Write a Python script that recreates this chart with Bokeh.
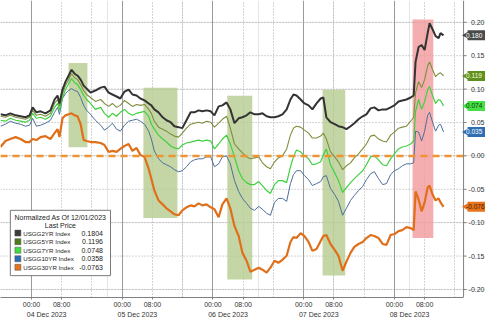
from bokeh.plotting import figure
from bokeh.models import Range1d, LinearAxis, FixedTicker, Grid
from bokeh.embed import file_html
from bokeh.resources import INLINE
from bokeh.core.properties import value

# hours since 04 Dec 2023 00:00 (Bloomberg intraday)
HOURS = [-8.2, -6.9, -5.6, -4.2, -2.9, -1.6, -0.5, 0.3, 1.3, 2.4,
         3.7, 5.0, 6.1, 6.9, 7.4, 8.2, 9.0, 9.8, 10.6, 11.4,
         12.2, 13.0, 13.8, 14.6, 15.6, 16.9, 18.3, 19.3, 20.4, 21.4,
         22.5, 23.5, 24.6, 25.7, 26.7, 27.8, 28.8, 29.9, 31.0, 31.7,
         32.5, 33.6, 34.7, 35.7, 36.8, 37.8, 38.9, 39.9, 41.0, 42.1,
         43.1, 44.2, 45.2, 46.3, 47.4, 48.4, 49.5, 50.5, 51.6, 52.6,
         53.7, 54.8, 55.8, 56.9, 57.9, 59.0, 60.1, 61.1, 62.2, 63.2,
         64.3, 65.3, 66.4, 67.5, 68.5, 69.3, 70.1, 71.2, 72.2, 73.3,
         74.3, 75.4, 76.5, 77.2, 78.0, 79.1, 80.2, 81.2, 82.3, 83.3,
         84.4, 85.4, 86.5, 87.6, 88.6, 89.7, 90.7, 91.8, 92.9, 93.9,
         95.0, 96.0, 97.1, 98.1, 99.2, 100.3, 101.1, 101.6, 102.4, 103.2,
         104.0, 104.8, 105.3, 106.1, 106.9, 107.7, 108.2, 109.0]

USGG2YR = [0.0622, 0.0607, 0.0637, 0.0607, 0.0593, 0.0578, 0.0607, 0.0726, 0.0652, 0.0667,
           0.0637, 0.0681, 0.0844, 0.0904, 0.0785, 0.0993, 0.1111, 0.1200, 0.1289, 0.1230,
           0.1200, 0.1141, 0.1052, 0.1007, 0.0948, 0.0978, 0.1022, 0.1037, 0.0948, 0.0919,
           0.0889, 0.0859, 0.0963, 0.0993, 0.0919, 0.0904, 0.0859, 0.0830, 0.0785, 0.0756,
           0.0696, 0.0652, 0.0578, 0.0533, 0.0504, 0.0444, 0.0430, 0.0415, 0.0533, 0.0652,
           0.0652, 0.0681, 0.0667, 0.0681, 0.0667, 0.0607, 0.0741, 0.0756, 0.0800, 0.0696,
           0.0489, 0.0563, 0.0578, 0.0607, 0.0652, 0.0622, 0.0622, 0.0637, 0.0593, 0.0578,
           0.0578, 0.0593, 0.0622, 0.0696, 0.0844, 0.0919, 0.0904, 0.0844, 0.0785, 0.0756,
           0.0696, 0.0785, 0.0859, 0.0874, 0.0578, 0.0504, 0.0474, 0.0444, 0.0430, 0.0400,
           0.0444, 0.0489, 0.0548, 0.0593, 0.0622, 0.0711, 0.0726, 0.0681, 0.0696, 0.0696,
           0.0726, 0.0756, 0.0815, 0.0830, 0.0844, 0.0874, 0.0904, 0.1407, 0.1630, 0.1659,
           0.1585, 0.1837, 0.1985, 0.1896, 0.1793, 0.1763, 0.1837, 0.1804]

USGG5YR = [0.0593, 0.0578, 0.0607, 0.0578, 0.0563, 0.0548, 0.0578, 0.0681, 0.0607, 0.0622,
           0.0593, 0.0637, 0.0785, 0.0844, 0.0741, 0.0933, 0.1052, 0.1141, 0.1230, 0.1170,
           0.1141, 0.1067, 0.0978, 0.0919, 0.0874, 0.0815, 0.0844, 0.0785, 0.0741, 0.0785,
           0.0726, 0.0756, 0.0830, 0.0785, 0.0741, 0.0770, 0.0756, 0.0770, 0.0696, 0.0637,
           0.0519, 0.0430, 0.0400, 0.0370, 0.0326, 0.0296, 0.0281, 0.0341, 0.0415, 0.0474,
           0.0489, 0.0504, 0.0489, 0.0519, 0.0504, 0.0430, 0.0489, 0.0548, 0.0593, 0.0415,
           0.0178, 0.0104, 0.0044, -0.0015, -0.0044, -0.0030, -0.0015, -0.0104, -0.0163, -0.0193,
           -0.0089, -0.0030, 0.0000, 0.0104, 0.0311, 0.0415, 0.0444, 0.0430, 0.0385, 0.0341,
           0.0267, 0.0267, 0.0296, 0.0341, 0.0252, 0.0059, -0.0015, -0.0089, -0.0207, -0.0148,
           -0.0104, -0.0030, 0.0030, 0.0104, 0.0178, 0.0296, 0.0311, 0.0252, 0.0222, 0.0207,
           0.0311, 0.0356, 0.0415, 0.0430, 0.0444, 0.0519, 0.0578, 0.0948, 0.1111, 0.1022,
           0.1141, 0.1348, 0.1407, 0.1289, 0.1185, 0.1230, 0.1244, 0.1196]

USGG7YR = [0.0533, 0.0519, 0.0563, 0.0533, 0.0519, 0.0504, 0.0533, 0.0637, 0.0563, 0.0578,
           0.0548, 0.0593, 0.0726, 0.0785, 0.0681, 0.0874, 0.0993, 0.1081, 0.1156, 0.1096,
           0.1067, 0.0993, 0.0904, 0.0844, 0.0785, 0.0696, 0.0726, 0.0637, 0.0578, 0.0637,
           0.0593, 0.0652, 0.0696, 0.0637, 0.0607, 0.0637, 0.0652, 0.0667, 0.0593, 0.0474,
           0.0400, 0.0311, 0.0252, 0.0207, 0.0148, 0.0119, 0.0104, 0.0163, 0.0193, 0.0207,
           0.0222, 0.0237, 0.0222, 0.0237, 0.0222, 0.0104, 0.0178, 0.0252, 0.0311, 0.0178,
           -0.0015, -0.0222, -0.0341, -0.0400, -0.0430, -0.0430, -0.0385, -0.0444, -0.0519, -0.0563,
           -0.0430, -0.0370, -0.0370, -0.0400, -0.0163, -0.0015, 0.0089, 0.0059, 0.0000, -0.0044,
           -0.0133, -0.0119, -0.0089, 0.0015, 0.0104, -0.0133, -0.0252, -0.0370, -0.0548, -0.0474,
           -0.0400, -0.0341, -0.0281, -0.0222, -0.0133, -0.0015, 0.0000, -0.0059, -0.0133, -0.0148,
           -0.0044, 0.0030, 0.0104, 0.0133, 0.0148, 0.0178, 0.0222, 0.0667, 0.0844, 0.0696,
           0.0815, 0.0993, 0.1037, 0.0904, 0.0785, 0.0844, 0.0830, 0.0748]

USGG10YR = [0.0444, 0.0474, 0.0519, 0.0489, 0.0474, 0.0444, 0.0459, 0.0563, 0.0444, 0.0459,
            0.0489, 0.0533, 0.0652, 0.0726, 0.0622, 0.0859, 0.0933, 0.0978, 0.1007, 0.0978,
            0.0963, 0.0874, 0.0756, 0.0681, 0.0622, 0.0533, 0.0459, 0.0385, 0.0430, 0.0489,
            0.0400, 0.0370, 0.0459, 0.0519, 0.0533, 0.0548, 0.0519, 0.0474, 0.0370, 0.0252,
            0.0074, -0.0044, -0.0104, -0.0133, -0.0163, -0.0207, -0.0237, -0.0222, -0.0163, -0.0089,
            -0.0059, -0.0044, -0.0044, -0.0015, -0.0015, -0.0163, -0.0119, -0.0015, 0.0000, -0.0119,
            -0.0370, -0.0533, -0.0637, -0.0711, -0.0785, -0.0815, -0.0756, -0.0800, -0.0859, -0.0889,
            -0.0696, -0.0637, -0.0637, -0.0681, -0.0415, -0.0281, -0.0222, -0.0222, -0.0296, -0.0356,
            -0.0444, -0.0415, -0.0385, -0.0311, -0.0296, -0.0489, -0.0578, -0.0681, -0.0889, -0.0785,
            -0.0667, -0.0593, -0.0519, -0.0459, -0.0356, -0.0267, -0.0237, -0.0341, -0.0430, -0.0415,
            -0.0281, -0.0222, -0.0193, -0.0148, -0.0119, -0.0119, -0.0104, 0.0370, 0.0356, 0.0222,
            0.0370, 0.0607, 0.0652, 0.0504, 0.0370, 0.0459, 0.0474, 0.0358]

USGG30YR = [0.0133, 0.0222, 0.0252, 0.0281, 0.0252, 0.0207, 0.0207, 0.0252, 0.0237, 0.0281,
            0.0296, 0.0252, 0.0341, 0.0400, 0.0281, 0.0563, 0.0607, 0.0622, 0.0637, 0.0607,
            0.0593, 0.0474, 0.0237, 0.0222, 0.0207, 0.0207, 0.0193, 0.0163, 0.0059, 0.0074,
            0.0059, 0.0104, 0.0148, 0.0178, 0.0074, 0.0119, 0.0015, -0.0015, -0.0193, -0.0341,
            -0.0519, -0.0667, -0.0726, -0.0785, -0.0830, -0.0874, -0.0889, -0.0815, -0.0770, -0.0741,
            -0.0756, -0.0711, -0.0741, -0.0726, -0.0770, -0.0800, -0.0919, -0.0726, -0.0637, -0.0785,
            -0.1052, -0.1200, -0.1452, -0.1570, -0.1733, -0.1704, -0.1674, -0.1704, -0.1748, -0.1674,
            -0.1570, -0.1600, -0.1556, -0.1496, -0.1289, -0.1215, -0.1230, -0.1156, -0.1200, -0.1289,
            -0.1422, -0.1393, -0.1274, -0.1200, -0.1185, -0.1319, -0.1407, -0.1496, -0.1719, -0.1585,
            -0.1452, -0.1363, -0.1319, -0.1289, -0.1230, -0.1185, -0.1200, -0.1230, -0.1319, -0.1333,
            -0.1185, -0.1170, -0.1126, -0.1111, -0.1067, -0.1081, -0.1111, -0.0533, -0.0652, -0.0830,
            -0.0696, -0.0474, -0.0444, -0.0578, -0.0667, -0.0637, -0.0696, -0.0763]

SERIES_NAMES = ["USGG2YR Index", "USGG5YR Index", "USGG7YR Index", "USGG10YR Index", "USGG30YR Index"]
LAST_PRICES = ["0.1804", "0.1196", "0.0748", "0.0358", "-0.0763"]
TAG_TEXTS = ["0.180", "0.119", "0.074", "0.035", "-0.076"]
LEGEND_TITLE = "Normalized As Of 12/01/2023"
LEGEND_SUBTITLE = "Last Price"

# highlighted windows (hours, value span)
BOX_START = [9.8, 29.6, 51.8, 77.0, 100.8]
BOX_END = [14.8, 38.6, 58.4, 83.0, 106.3]
BOX_TOP = [0.139, 0.102, 0.090, 0.099, 0.204]
BOX_BOTTOM = [0.013, -0.093, -0.185, -0.179, -0.123]

Y_TICKS = [-0.20, -0.15, -0.10, -0.05, 0.00, 0.05, 0.10, 0.15, 0.20]
DAY_STARTS = [0, 24, 48, 72, 96]
DAY_NAMES = ["04 Dec 2023", "05 Dec 2023", "06 Dec 2023", "07 Dec 2023", "08 Dec 2023"]

FONT = "Liberation Sans"
LINE_COLORS = ["#333333", "#7d8f3c", "#3fd13f", "#4d6f99", "#e06f1a"]
SQUARE_COLORS = ["#3c3c3c", "#4d7c1c", "#3ee03e", "#2a6cb5", "#e8731a"]
TAG_BG = ["#4a4a4a", "#5f9022", "#45e045", "#2f6db3", "#e8731a"]
TAG_FG = ["#ffffff", "#fffbd0", "#0c3a0c", "#ffffff", "#3a1800"]

X0, AXIS_X, XE = -8.2, 114.3, 120.1
Y0, Y1 = -0.212, 0.2326
PX = (XE - X0) / 485.0   # hours per pixel (for small offsets)

p = figure(width=485, height=320, x_range=Range1d(X0, XE), y_range=Range1d(Y0, Y1),
           output_backend="svg", toolbar_location=None,
           x_axis_location=None, y_axis_location=None,
           min_border_left=0, min_border_top=0, min_border_right=0, min_border_bottom=0)
p.outline_line_color = None
p.background_fill_color = "white"
p.border_fill_color = "white"

# bottom axes
time_ticks = []
time_labels = {}
for d in DAY_STARTS:
    time_ticks += [d, d + 8]
    time_labels[d] = "00:00"
    time_labels[d + 8] = "08:00"
xax = LinearAxis(ticker=FixedTicker(ticks=time_ticks, minor_ticks=[]), major_label_overrides=time_labels,
                 bounds=(X0, AXIS_X))
xax.axis_line_color = "#808080"
xax.major_tick_line_color = "#808080"
xax.major_tick_in = 0
xax.major_tick_out = 2
xax.minor_tick_line_color = None
xax.major_label_standoff = 1
xax.major_label_text_font = FONT
xax.major_label_text_font_size = "7px"
xax.major_label_text_color = "#333333"
p.add_layout(xax, "below")

date_pos = [d + 4 for d in DAY_STARTS]
date_labels = {pos: name for pos, name in zip(date_pos, DAY_NAMES)}
dax = LinearAxis(ticker=FixedTicker(ticks=date_pos, minor_ticks=[]), major_label_overrides=date_labels)
dax.axis_line_color = None
dax.major_tick_line_color = None
dax.minor_tick_line_color = None
dax.major_tick_in = 0
dax.major_tick_out = 0
dax.major_label_standoff = 0
dax.major_label_text_font = FONT
dax.major_label_text_font_size = "7px"
dax.major_label_text_color = "#333333"
p.add_layout(dax, "below")

# grids
p.segment(x0=[X0] * len(Y_TICKS), x1=[AXIS_X] * len(Y_TICKS), y0=Y_TICKS, y1=Y_TICKS,
          line_color="#a8a8a8", line_dash="1 2", line_width=1)
p.add_layout(Grid(dimension=0, ticker=FixedTicker(ticks=DAY_STARTS), grid_line_color="#9a9a9a"))
dotted_x = []
for d in DAY_STARTS:
    dotted_x += [d + 8, d + 16]
p.add_layout(Grid(dimension=0, ticker=FixedTicker(ticks=dotted_x), grid_line_color="#a8a8a8", grid_line_dash="1 2"))

# highlight boxes
p.quad(left=BOX_START, right=BOX_END, top=BOX_TOP, bottom=BOX_BOTTOM,
       fill_color=["#b6cc90", "#b6cc90", "#b6cc90", "#b6cc90", "#f29a9c"],
       fill_alpha=0.8, line_color=None)

# series
series = [USGG2YR, USGG5YR, USGG7YR, USGG10YR, USGG30YR]
widths = [2.0, 1.1, 1.2, 1.0, 2.2]
for idx in [3, 2, 1, 4, 0]:
    p.line(HOURS, series[idx], line_color=LINE_COLORS[idx], line_width=widths[idx])

# zero reference line
p.line([X0, AXIS_X], [0, 0], line_color="#ee9430", line_width=2.5, line_dash="7 5")

# right value axis (drawn inside the canvas so the price tags can overlap it)
p.segment(x0=[AXIS_X], x1=[AXIS_X], y0=[Y0], y1=[Y1], line_color="#808080", line_width=1)
p.segment(x0=[AXIS_X] * len(Y_TICKS), x1=[AXIS_X + 3 * PX] * len(Y_TICKS), y0=Y_TICKS, y1=Y_TICKS,
          line_color="#808080", line_width=1)
p.text(x=[XE] * len(Y_TICKS), y=Y_TICKS, text=["%.2f" % t for t in Y_TICKS], x_offset=-1,
       text_align="right", text_baseline="middle", text_font=value(FONT),
       text_font_size="7px", text_color="#333333")

# legend block
lg_left, lg_right, lg_top, lg_bottom = -5.6, 20.9, -0.0815, -0.1793
p.quad(left=[lg_left], right=[lg_right], top=[lg_top], bottom=[lg_bottom],
       fill_color="white", line_color="#7a7a7a", line_width=1)
mid = (lg_left + lg_right) / 2
p.text(x=[mid, mid], y=[lg_top - 0.0104, lg_top - 0.0222], text=[LEGEND_TITLE, LEGEND_SUBTITLE],
       text_align="center", text_baseline="middle", text_font=value(FONT),
       text_font_size="7px", text_color="#222222")
rows = [lg_top - 0.0341 - i * 0.0128 for i in range(5)]
p.scatter(x=[lg_left + 2.0] * 5, y=rows, marker="square", size=6,
          fill_color=SQUARE_COLORS, line_color="#555555", line_width=0.5)
p.text(x=[lg_left + 3.4] * 5, y=rows, text=SERIES_NAMES, text_align="left", text_baseline="middle",
       text_font=value(FONT), text_font_size="6.2px", text_color="#222222")
p.text(x=[lg_right - 2.0] * 5, y=rows, text=LAST_PRICES, text_align="right", text_baseline="middle",
       text_font=value(FONT), text_font_size="7px", text_color="#222222")

# last-value tags
last_vals = [s[-1] for s in series]
p.scatter(x=[AXIS_X + 3 * PX] * 5, y=last_vals, marker="triangle", angle=1.5708, size=8,
          fill_color=TAG_BG, line_color=None)
p.rect(x=[AXIS_X + 16 * PX] * 5, y=last_vals, width=24, height=10,
       width_units="screen", height_units="screen", fill_color=TAG_BG, line_color=None)
for v, txt, fg in zip(last_vals, TAG_TEXTS, TAG_FG):
    p.text(x=[AXIS_X + 2.5 * PX], y=[v], text=[txt], text_align="left", text_baseline="middle",
           text_font=value(FONT), text_font_size="6.5px", text_color=fg)

open("out.html", "w").write(file_html(p, INLINE))
